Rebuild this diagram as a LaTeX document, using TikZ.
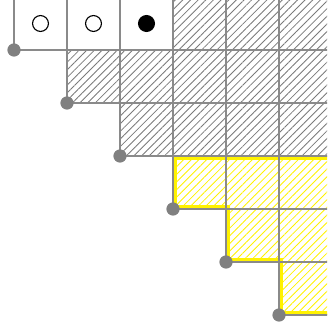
\documentclass[tikz,border=0pt]{standalone}
\usetikzlibrary{patterns.meta}
\definecolor{gridgray}{HTML}{8A8A8A}
\definecolor{hatchgray}{HTML}{7A7A7A}
\definecolor{dotgray}{HTML}{808080}
\definecolor{stairyellow}{HTML}{FFF200}

\begin{document}
\begin{tikzpicture}[
      cellgrid/.style={draw=gridgray, line width=0.6pt},
      grayhatch/.style={pattern={Lines[angle=45, distance=2.9pt, line width=0.45pt]},
        pattern color=hatchgray},
      yellowhatch/.style={pattern={Lines[angle=45, distance=2.9pt, line width=0.45pt]},
        pattern color=stairyellow},
      corner/.style={circle, fill=dotgray, inner sep=0pt, minimum size=0.25cm},
      token/.style={circle, draw=black, line width=0.6pt, inner sep=0pt,
        minimum size=0.3cm}
    ]
      \useasboundingbox (-0.264,-5.245) rectangle (5.906,0.943);
      \begin{scope}
        \clip (-0.264,-5.245) rectangle (5.906,0.943);
        % hatched gray block
        \fill[grayhatch] (3,1) -- (3,0) -- (1,0) -- (1,-1) -- (2,-1) -- (2,-2)
          -- (6,-2) -- (6,1) -- cycle;
        % yellow staircase
        \fill[yellowhatch] (3,-2) -- (3,-3) -- (4,-3) -- (4,-4) -- (5,-4)
          -- (5,-5) -- (6,-5) -- (6,-2) -- cycle;
        \begin{scope}
          \clip (3,-2) -- (3,-3) -- (4,-3) -- (4,-4) -- (5,-4)
            -- (5,-5) -- (6,-5) -- (6,-2) -- cycle;
          \draw[stairyellow, line width=4.6pt] (3,-2) -- (3,-3) -- (4,-3)
            -- (4,-4) -- (5,-4) -- (5,-5) -- (6,-5) -- (6,-2) -- cycle;
        \end{scope}
        % grid lines
        \draw[cellgrid] (0,1) -- (6,1);
        \foreach \r in {0,...,5}
          \draw[cellgrid] (\r,-\r) -- (6,-\r);
        \foreach \c in {0,...,6}
          \draw[cellgrid] (\c,1) -- (\c,{-min(\c,5)});
      \end{scope}
      % tokens in the first row
      \node[token] (token1) at (0.5,0.5) {};
      \node[token] (token2) at (1.5,0.5) {};
      \node[token, fill=black] (token3) at (2.5,0.5) {};
      % corner dots
      \foreach \r in {0,...,5}
        \node[corner] (corner\r) at (\r,-\r) {};
    \end{tikzpicture}
\end{document}
